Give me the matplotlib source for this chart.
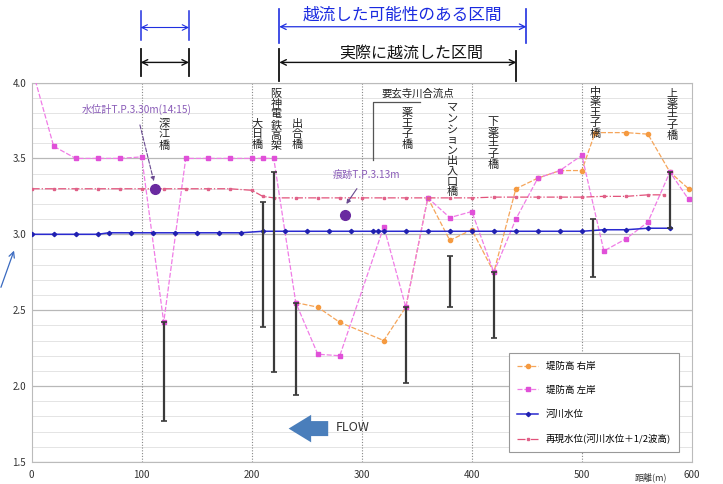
import matplotlib
matplotlib.use('Agg')
import matplotlib.pyplot as plt
from matplotlib.patches import FancyArrowPatch

plt.rcParams['font.family'] = ['Noto Sans CJK JP', 'DejaVu Sans']

# 堤防高 左岸
left_x = [0, 20, 40, 60, 80, 100, 120, 140, 160, 180, 200, 210, 220, 240, 260, 280, 320, 340,
          360, 380, 400, 420, 440, 460, 480, 500, 520, 540, 560, 580, 597]
left_h = [4.10, 3.58, 3.50, 3.50, 3.50, 3.51, 2.42, 3.50, 3.50, 3.50, 3.50, 3.50, 3.50, 2.55, 2.21, 2.20, 3.05, 2.52,
          3.24, 3.11, 3.15, 2.75, 3.10, 3.37, 3.42, 3.52, 2.89, 2.97, 3.08, 3.41, 3.23]

# 堤防高 右岸
right_x = [240, 260, 280, 320, 340, 360, 380, 400, 420, 440, 460, 480, 500, 512, 540, 560, 580, 597]
right_h = [2.55, 2.52, 2.42, 2.30, 2.52, 3.24, 2.96, 3.03, 2.75, 3.30, 3.37, 3.42, 3.42, 3.67, 3.67, 3.66, 3.41, 3.30]

# 河川水位
river_x = [0, 20, 40, 60, 70, 90, 110, 130, 150, 170, 190, 210, 230, 250, 270, 290, 310, 315, 320,
           340, 360, 380, 400, 420, 440, 460, 480, 500, 520, 540, 560, 580]
river_h = [3.00, 3.00, 3.00, 3.00, 3.01, 3.01, 3.01, 3.01, 3.01, 3.01, 3.01, 3.02, 3.02, 3.02, 3.02, 3.02, 3.02, 3.02, 3.02,
           3.02, 3.02, 3.02, 3.02, 3.02, 3.02, 3.02, 3.02, 3.02, 3.03, 3.03, 3.04, 3.04]

# 再現水位(河川水位+1/2波高)
repro_x = [0, 20, 40, 60, 80, 100, 120, 140, 160, 180, 200, 210, 220, 240, 260, 280, 300, 320, 340,
           360, 380, 400, 420, 440, 460, 480, 500, 520, 540, 560, 575]
repro_h = [3.30, 3.30, 3.30, 3.30, 3.30, 3.30, 3.30, 3.30, 3.30, 3.30, 3.29, 3.25, 3.24, 3.24, 3.24, 3.24, 3.24, 3.24, 3.24,
           3.24, 3.24, 3.24, 3.245, 3.245, 3.245, 3.245, 3.245, 3.25, 3.25, 3.26, 3.26]

# 縦線 (上端, 下端)
bar_x = [120, 210, 220, 240, 340, 380, 420, 510, 580]
bar_top = [2.42, 3.21, 3.41, 2.55, 2.52, 2.86, 2.75, 3.10, 3.41]
bar_bottom = [1.77, 2.39, 2.09, 1.94, 2.02, 2.52, 2.32, 2.72, 3.04]

# 観測点
obs_x = [112, 285]
obs_h = [3.30, 3.13]

bridge_names = ['深江橋', '大日橋', '阪神電鉄高架', '出合橋', '薬王子橋', 'マンション出入口橋',
                '下薬王子橋', '中薬王子橋', '上薬王子橋']
bridge_x = [120, 205, 222, 241, 341, 382, 419, 512, 582]
bridge_top = [3.76, 3.76, 3.96, 3.76, 3.83, 3.86, 3.77, 3.97, 3.96]

fig = plt.figure(figsize=(7.23, 4.84), dpi=100)
ax = fig.add_axes([0.0438, 0.0455, 0.9132, 0.784])

ax.set_xlim(0, 600)
ax.set_ylim(1.5, 4.0)
ax.set_xticks(range(0, 601, 100))
ax.set_yticks([1.5, 2.0, 2.5, 3.0, 3.5, 4.0])
ax.set_yticklabels(['1.5', '2.0', '2.5', '3.0', '3.5', '4.0'])
ax.set_yticks([v / 10 for v in range(15, 41)], minor=True)
ax.tick_params(which='both', length=0, labelsize=7, colors='#333333')
ax.tick_params(axis='y', pad=4)
ax.tick_params(axis='x', pad=6)
ax.yaxis.grid(True, which='minor', color='#e4e4e4', lw=0.7)
ax.yaxis.grid(True, which='major', color='#b8b8b8', lw=0.9)
ax.set_axisbelow(True)
for x in [100, 200, 300, 400, 500]:
	ax.axvline(x, color='#888888', lw=0.8, ls=(0, (1, 1.5)), zorder=1)
for s in ax.spines.values():
	s.set_color('#bbbbbb')

l1, = ax.plot(right_x, right_h, color='#f5a55a', lw=0.9, ls=(0, (4, 1.5)), marker='o', ms=3,
              mfc='#f59a40', mec='#f59a40', label='堤防高 右岸', zorder=3)
l2, = ax.plot(left_x, left_h, color='#f07ce6', lw=0.9, ls=(0, (4, 1.5)), marker='s', ms=3,
              mfc='#e050d8', mec='#e050d8', label='堤防高 左岸', zorder=3)
l3, = ax.plot(river_x, river_h, color='#2a2ad0', lw=1.1, marker='D', ms=2.2,
              mfc='#2020b0', mec='#2020b0', label='河川水位', zorder=3)
l4, = ax.plot(repro_x, repro_h, color='#e2527a', lw=0.9, ls='-.', marker='s', ms=2,
              mfc='#e06088', mec='#e06088', label='再現水位(河川水位＋1/2波高)', zorder=3)

mid = [(t + b) / 2 for t, b in zip(bar_top, bar_bottom)]
half = [(t - b) / 2 for t, b in zip(bar_top, bar_bottom)]
ax.errorbar(bar_x, mid, yerr=half, fmt='none', ecolor='#3a3a3a', elinewidth=1.6, capsize=2.5,
            capthick=1.2, zorder=4)

ax.plot(obs_x, obs_h, 'o', color='#6a2aa0', ms=7, zorder=5)
ax.annotate('水位計T.P.3.30m(14:15)', xy=(obs_x[0] - 1, obs_h[0] + 0.05), xytext=(95, 3.82),
            ha='center', va='center', fontsize=7.3, color='#8a5cb8',
            arrowprops=dict(arrowstyle='-|>', color='#6a4a90', lw=0.8, ls='--', mutation_scale=6,
                            shrinkA=5, shrinkB=0))
ax.annotate('痕跡T.P.3.13m', xy=(obs_x[1] + 1, obs_h[1] + 0.07), xytext=(304, 3.39),
            ha='center', va='center', fontsize=7.3, color='#8a5cb8',
            arrowprops=dict(arrowstyle='-|>', color='#6a4a90', lw=0.8, mutation_scale=6,
                            shrinkA=5, shrinkB=0))

for name, x, y in zip(bridge_names, bridge_x, bridge_top):
	ax.text(x, y, '\n'.join(name), ha='center', va='top', fontsize=8, linespacing=1.05,
	        color='#222222', zorder=6)

ax.text(351, 3.93, '要玄寺川合流点', ha='center', va='center', fontsize=7.5, color='#222222')
ax.plot([353, 310.5, 310.5], [3.87, 3.87, 3.49], color='#555555', lw=0.9)

# FLOW
ax.add_patch(FancyArrowPatch((272, 1.72), (231, 1.72), arrowstyle='simple,head_length=0.9,head_width=1.1,tail_width=0.6',
                             mutation_scale=18, color='#4a7ebb', lw=0, zorder=6))
ax.text(276, 1.73, 'FLOW', ha='left', va='center', fontsize=9, color='#333333')

leg = ax.legend(handles=[l1, l2, l3, l4], loc='lower right', bbox_to_anchor=(0.988, 0.013),
                fontsize=6.8, labelspacing=1.55, handlelength=2.2, borderpad=0.9,
                fancybox=False, framealpha=1, edgecolor='#999999')
leg.get_frame().set_linewidth(0.8)

# 区間の矢印
tr = ax.get_xaxis_transform()


def span(x0, x1, y, ty0, ty1, color, lw):
	ax.annotate('', xy=(x1, y), xytext=(x0, y), xycoords=tr, textcoords=tr, annotation_clip=False,
	            arrowprops=dict(arrowstyle='<->', color=color, lw=lw, shrinkA=0, shrinkB=0,
	                            mutation_scale=10))
	for x in (x0, x1):
		ax.plot([x, x], [ty0, ty1], transform=tr, color=color, lw=lw + 0.3, clip_on=False)


span(99, 143, 1.145, 1.111, 1.189, '#2030e0', 0.8)
span(99, 143, 1.053, 1.018, 1.089, '#111111', 1.0)
span(225, 449.5, 1.147, 1.103, 1.195, '#2030e0', 0.9)
ax.plot([225, 225], [1.005, 1.089], transform=tr, color='#111111', lw=1.3, clip_on=False)
ax.plot([440.5, 440.5], [1.005, 1.084], transform=tr, color='#111111', lw=1.3, clip_on=False)
ax.annotate('', xy=(440.5, 1.053), xytext=(225, 1.053), xycoords=tr, textcoords=tr, annotation_clip=False,
            arrowprops=dict(arrowstyle='<->', color='#111111', lw=1.0, shrinkA=0, shrinkB=0,
                            mutation_scale=10))
ax.text(337, 1.178, '越流した可能性のある区間', transform=tr, ha='center', va='center',
        fontsize=12, color='#1a2ae0')
ax.text(345, 1.076, '実際に越流した区間', transform=tr, ha='center', va='center',
        fontsize=11.5, color='#111111')

fig.add_artist(FancyArrowPatch((0.0, 0.401), (0.0207, 0.4876), transform=fig.transFigure,
                               arrowstyle='->', mutation_scale=10, color='#3a6ac0', lw=0.9))
fig.text(0.9, 0.003, '距離(m)', ha='center', va='bottom', fontsize=6.5, color='#333333')

fig.savefig('out.png', dpi=100)
